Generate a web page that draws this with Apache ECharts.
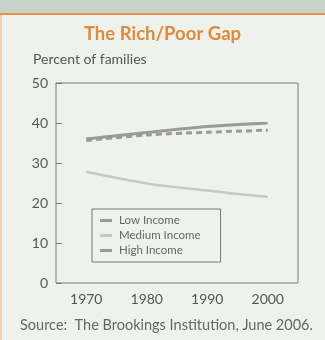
<!DOCTYPE html>
<html>
<head>
<meta charset="utf-8">
<script src="https://cdn.jsdelivr.net/npm/echarts@6/dist/echarts.min.js"></script>
<style>
  html, body { margin: 0; padding: 0; }
  #chart { width: 325px; height: 340px; }
</style>
</head>
<body>
<div id="chart"></div>
<script>
// values
const years = ['1970', '1980', '1990', '2000'];
const lowIncome = [35.6, 37.0, 37.7, 38.2];
const mediumIncome = [27.8, 24.9, 23.1, 21.5];
const highIncome = [36.0, 37.6, 39.1, 40.0];

const font = 'Lato';
const chart = echarts.init(document.getElementById('chart'), null, { renderer: 'canvas' });

const option = {
  backgroundColor: '#eef2ec',
  animation: false,
  textStyle: { fontFamily: font },
  graphic: [
    { type: 'rect', shape: { x: 0, y: 0, width: 325, height: 13 }, style: { fill: '#c8d2c6' } },
    { type: 'rect', shape: { x: 0, y: 13, width: 325, height: 2 }, style: { fill: '#e8904a' } },
    { type: 'rect', shape: { x: 0, y: 15, width: 2, height: 325 }, style: { fill: '#f3d2b4' } }
  ],
  title: [
    {
      text: 'The Rich/Poor Gap',
      left: 'center',
      top: 20,
      textStyle: { fontFamily: font, fontSize: 18.5, fontWeight: 'bold', color: '#e08a3c' }
    },
    {
      text: 'Percent of families',
      left: 28,
      top: 47,
      textStyle: { fontFamily: font, fontSize: 14, fontWeight: 'normal', color: '#555' }
    },
    {
      text: 'Source:  The Brookings Institution, June 2006.',
      left: 15,
      top: 313,
      textStyle: { fontFamily: font, fontSize: 14.5, fontWeight: 'normal', color: '#666' }
    }
  ],
  legend: {
    orient: 'vertical',
    left: 92,
    top: 209,
    data: ['Low Income', 'Medium Income', 'High Income'],
    icon: 'rect',
    itemWidth: 12,
    itemHeight: 3,
    itemGap: 2,
    padding: [5, 20, 5, 8],
    borderColor: '#777',
    borderWidth: 1,
    textStyle: { fontFamily: font, fontSize: 11.5, color: '#666', lineHeight: 13, padding: [0, 0, 0, 2] }
  },
  grid: {
    left: 56, right: 27, top: 83, bottom: 57,
    show: true,
    borderColor: '#777',
    borderWidth: 1,
    backgroundColor: 'transparent'
  },
  xAxis: {
    type: 'category',
    data: years,
    boundaryGap: true,
    axisLine: { show: false },
    axisTick: { inside: true, alignWithLabel: true, length: 5, lineStyle: { color: '#777' } },
    axisLabel: { fontFamily: font, fontSize: 14, color: '#555', margin: 9 }
  },
  yAxis: {
    type: 'value',
    min: 0,
    max: 50,
    interval: 10,
    axisLine: { show: false },
    axisTick: { show: true, inside: true, length: 6, lineStyle: { color: '#777' } },
    axisLabel: { fontFamily: font, fontSize: 14, color: '#555', margin: 8 },
    splitLine: { show: false }
  },
  series: [
    {
      name: 'High Income',
      type: 'line',
      data: highIncome,
      smooth: 0.3,
      showSymbol: false,
      color: '#9a9a9a',
      lineStyle: { width: 3, color: '#9a9a9a' }
    },
    {
      name: 'Medium Income',
      type: 'line',
      data: mediumIncome,
      smooth: 0.3,
      showSymbol: false,
      color: '#c6c8c6',
      lineStyle: { width: 2.5, color: '#c6c8c6' }
    },
    {
      name: 'Low Income',
      type: 'line',
      data: lowIncome,
      smooth: 0.3,
      showSymbol: false,
      color: '#9a9a9a',
      lineStyle: { width: 3, color: '#9a9a9a', type: [6, 4] }
    }
  ]
};

chart.setOption(option);
</script>
</body>
</html>
